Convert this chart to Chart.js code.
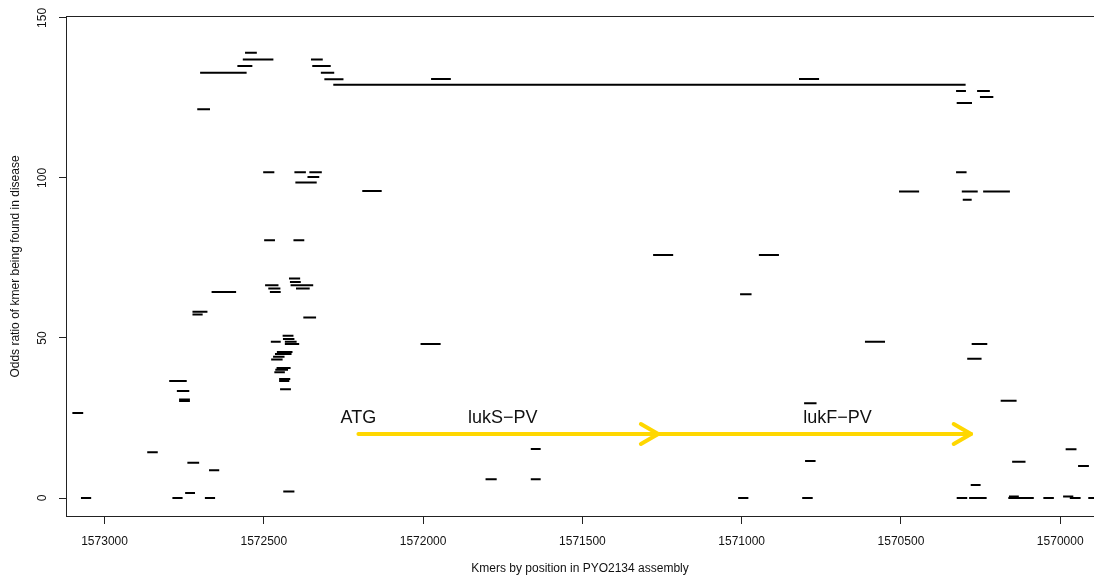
<!DOCTYPE html>
<html>
<head>
<meta charset="utf-8">
<script src="https://cdn.jsdelivr.net/npm/chart.js@4.4.1/dist/chart.umd.min.js"></script>
<style>
  html, body { margin: 0; padding: 0; background: #ffffff; }
  canvas { display: block; }
</style>
</head>
<body>
<canvas id="kmerChart" width="1094" height="578"></canvas>
<script>
// k-mer runs along the assembly: left end (bp), right end (bp), odds ratio
const kmerFrom = [
  1572559, 1572566, 1572583, 1572700, 1572709, 1572352, 1572348, 1572321, 1572310, 1572282,
  1572502, 1572404, 1572357, 1572363, 1572401, 1572499, 1572407, 1572421, 1572418, 1572496,
  1572416, 1572486, 1572399, 1572481, 1572664, 1572724, 1572724, 1572376, 1572441, 1572440,
  1572478, 1572434, 1572434, 1572459, 1572465, 1572471, 1572477, 1572460, 1572464, 1572467,
  1572452, 1572452, 1572449, 1572797, 1572773, 1572766, 1572766, 1573101, 1572866, 1572740,
  1572672, 1572439, 1572747, 1573074, 1572787, 1572685, 1571975, 1572191, 1570820, 1570327,
  1570261, 1570252, 1570325, 1570327, 1570506, 1570309, 1570242, 1570306, 1571278, 1572008,
  1571662, 1571804, 1571662, 1570946, 1571005, 1570613, 1570278, 1570292, 1570187, 1570804,
  1569983, 1570801, 1570151, 1569944, 1570281, 1571011, 1570810, 1570325, 1570286, 1570163,
  1570053, 1569970, 1569912, 1569991, 1570161
];
const kmerTo = [
  1572522, 1572470, 1572536, 1572554, 1572669, 1572315, 1572290, 1572279, 1572250, 1570297,
  1572467, 1572368, 1572318, 1572326, 1572334, 1572465, 1572373, 1572386, 1572384, 1572454,
  1572345, 1572448, 1572356, 1572447, 1572587, 1572677, 1572692, 1572336, 1572407, 1572404,
  1572447, 1572397, 1572389, 1572410, 1572413, 1572435, 1572441, 1572416, 1572424, 1572434,
  1572417, 1572420, 1572415, 1572742, 1572734, 1572732, 1572732, 1573067, 1572833, 1572703,
  1572640, 1572404, 1572716, 1573042, 1572755, 1572653, 1571913, 1572130, 1570757, 1570296,
  1570221, 1570210, 1570277, 1570294, 1570443, 1570259, 1570158, 1570278, 1571215, 1571945,
  1571631, 1571769, 1571631, 1570883, 1570969, 1570550, 1570229, 1570247, 1570137, 1570765,
  1569949, 1570768, 1570109, 1569910, 1570250, 1570979, 1570777, 1570292, 1570231, 1570083,
  1570020, 1569936, 1569880, 1569959, 1570130
];
const kmerOdds = [
  139.1, 137.0, 135.0, 132.9, 121.5, 137.0, 135.0, 132.9, 130.8, 129.1,
  101.8, 101.8, 101.8, 100.3, 98.6, 80.5, 80.5, 68.6, 67.5, 66.5,
  66.5, 65.5, 65.5, 64.4, 64.4, 58.2, 57.3, 56.4, 50.7, 49.7,
  48.8, 48.8, 48.1, 45.6, 45.0, 44.1, 43.3, 40.6, 40.1, 39.3,
  37.2, 36.6, 34.0, 36.6, 33.4, 30.8, 30.3, 26.6, 14.3, 11.0,
  8.7, 2.0, 1.6, 0, 0, 0, 130.9, 95.9, 130.9, 127.2,
  127.2, 125.3, 123.4, 101.8, 95.8, 95.8, 95.8, 93.2, 75.9, 48.1,
  15.3, 5.9, 5.9, 75.9, 63.7, 48.8, 48.1, 43.5, 30.4, 29.6,
  15.2, 11.6, 11.3, 10.0, 4.1, 0, 0, 0, 0, 0,
  0, 0, 0, 0.5, 0.5
];

// axis ticks and extent
const xTicks = [1573000, 1572500, 1572000, 1571500, 1571000, 1570500, 1570000];
const yTicks = [0, 50, 100, 150];
const xRange = [1569894, 1573121];
const yRange = [-5.93, 150.6];

// genes drawn as arrows, with their labels
const geneNames = ['lukS\u2212PV', 'lukF\u2212PV'];
const geneFrom = [1572203, 1571262];
const geneTo = [1571262, 1570280];
const geneLabelAt = [1571750, 1570699];
const startCodonLabel = 'ATG';
const startCodonAt = 1572203;
const arrowOdds = 20;
const labelOdds = 25;

const FONT = "'Liberation Sans', Arial, Helvetica, sans-serif";
const GOLD = '#FFD700';
Chart.defaults.font.family = FONT;

// each run becomes a short horizontal stroke; a null point breaks the path
const kmerPoints = [];
kmerFrom.forEach((x0, i) => {
  kmerPoints.push({ x: x0, y: kmerOdds[i] }, { x: kmerTo[i], y: kmerOdds[i] }, { x: kmerTo[i], y: null });
});

const geneSets = geneNames.map((name, i) => ({
  label: name,
  data: [{ x: geneFrom[i], y: arrowOdds }, { x: geneTo[i], y: arrowOdds }],
  borderColor: GOLD,
  borderWidth: 4,
  borderCapStyle: 'round',
  pointRadius: 0,
  tension: 0
}));

const framePlugin = {
  id: 'frame',
  afterDraw(chart) {
    const { ctx, chartArea: a, scales } = chart;
    ctx.save();
    ctx.strokeStyle = '#222';
    ctx.lineWidth = 1;
    ctx.strokeRect(Math.round(a.left) + 0.5, Math.round(a.top) + 0.5, a.right - a.left + 2, a.bottom - a.top - 1);
    // rotated y tick labels
    ctx.fillStyle = '#111';
    ctx.font = '12px ' + FONT;
    ctx.textAlign = 'center';
    ctx.textBaseline = 'middle';
    yTicks.forEach(v => {
      ctx.save();
      ctx.translate(43, scales.y.getPixelForValue(v));
      ctx.rotate(-Math.PI / 2);
      ctx.fillText(String(v), 0, 0);
      ctx.restore();
    });
    ctx.restore();
  }
};

const genePlugin = {
  id: 'genes',
  afterDatasetsDraw(chart) {
    const { ctx, scales: { x, y } } = chart;
    ctx.save();
    // open arrowheads at the gene ends
    ctx.strokeStyle = GOLD;
    ctx.lineWidth = 4;
    ctx.lineCap = 'round';
    ctx.lineJoin = 'round';
    geneNames.forEach((_, i) => {
      const x0 = x.getPixelForValue(geneFrom[i]);
      const x1 = x.getPixelForValue(geneTo[i]);
      const py = y.getPixelForValue(arrowOdds);
      const ang = Math.atan2(0, x1 - x0);
      const len = 20, spread = Math.PI / 6;
      ctx.beginPath();
      ctx.moveTo(x1 - len * Math.cos(ang - spread), py - len * Math.sin(ang - spread));
      ctx.lineTo(x1, py);
      ctx.lineTo(x1 - len * Math.cos(ang + spread), py - len * Math.sin(ang + spread));
      ctx.stroke();
    });
    // gene and start codon labels
    ctx.fillStyle = '#111';
    ctx.font = '18px ' + FONT;
    ctx.textAlign = 'center';
    ctx.textBaseline = 'middle';
    const ly = y.getPixelForValue(labelOdds);
    ctx.fillText(startCodonLabel, x.getPixelForValue(startCodonAt), ly);
    geneNames.forEach((name, i) => ctx.fillText(name, x.getPixelForValue(geneLabelAt[i]), ly));
    ctx.restore();
  }
};

new Chart(document.getElementById('kmerChart'), {
  type: 'line',
  data: {
    datasets: [{
      label: 'kmers',
      data: kmerPoints,
      borderColor: '#000',
      borderWidth: 2,
      borderCapStyle: 'butt',
      pointRadius: 0,
      spanGaps: false,
      tension: 0
    }, ...geneSets]
  },
  options: {
    responsive: false,
    animation: false,
    devicePixelRatio: 1,
    layout: { padding: { top: 16, left: 0, right: 0, bottom: 0 } },
    plugins: { legend: { display: false }, tooltip: { enabled: false } },
    scales: {
      x: {
        type: 'linear',
        reverse: true,
        min: xRange[0],
        max: xRange[1],
        afterBuildTicks: s => { s.ticks = xTicks.map(v => ({ value: v })); },
        afterFit: s => { s.height = 61; },
        grid: { drawOnChartArea: false, drawTicks: true, tickLength: 7, color: '#222', lineWidth: 1 },
        border: { display: false },
        ticks: { color: '#111', font: { size: 12 }, padding: 10, maxRotation: 0, autoSkip: false, callback: v => String(v) },
        title: { display: true, text: 'Kmers by position in PYO2134 assembly', color: '#111', font: { size: 12 }, padding: { top: 0, bottom: 2 } }
      },
      y: {
        type: 'linear',
        min: yRange[0],
        max: yRange[1],
        afterBuildTicks: s => { s.ticks = yTicks.map(v => ({ value: v })); },
        afterFit: s => { s.width = 66; },
        grid: { drawOnChartArea: false, drawTicks: true, tickLength: 7, color: '#222', lineWidth: 1 },
        border: { display: false },
        ticks: { display: false },
        title: { display: true, text: 'Odds ratio of kmer being found in disease', color: '#111', font: { size: 12 }, padding: { top: 8, bottom: 0 } }
      }
    }
  },
  plugins: [framePlugin, genePlugin]
});
</script>
</body>
</html>
